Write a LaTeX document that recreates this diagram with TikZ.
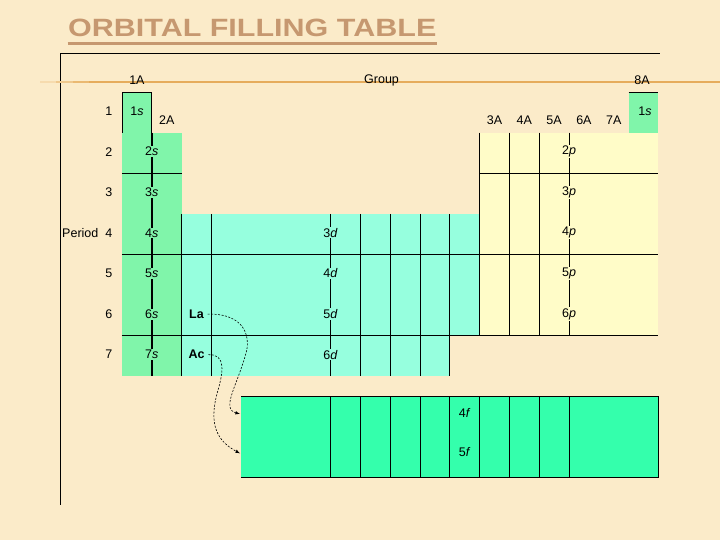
\documentclass[tikz,border=0pt]{standalone}
\usepackage{fontspec}
\setmainfont{Liberation Sans}
\definecolor{bgcol}{RGB}{251,235,201}
\definecolor{titlecol}{RGB}{198,152,112}
\definecolor{rulecol}{RGB}{230,172,92}
\definecolor{sgreen}{RGB}{128,245,170}
\definecolor{dcyan}{RGB}{150,255,222}
\definecolor{pyellow}{RGB}{255,252,200}
\definecolor{fgreen}{RGB}{52,255,172}

\begin{document}
\begin{tikzpicture}[x=29.8pt, y=-40.6pt, line width=0.9pt,
    font=\fontsize{12.5}{14}\selectfont]
      \useasboundingbox (-122pt, 92pt) rectangle (598pt, -448pt);
      \fill[bgcol] (-122pt, 92pt) rectangle (598pt, -448pt);
      \node[text=titlecol, font=\fontsize{25}{30}\selectfont\bfseries, inner sep=0pt] (title) at (4.37, -1.59) {\scalebox{1.22}[1]{ORBITAL FILLING TABLE}};
      \draw[titlecol, line width=3pt] ([yshift=-6.5pt]title.south west) -- ([yshift=-6.5pt]title.south east);
      \draw (18.05, -0.94) -- (-2.05, -0.94) -- (-2.05, 10.17);
      \draw[rulecol!25!bgcol, line width=1.8pt] (-2.75, -0.24) -- (-2.2, -0.24);
      \draw[rulecol!55!bgcol, line width=1.8pt] (-2.2, -0.24) -- (-1.65, -0.24);
      \draw[rulecol!80!bgcol, line width=1.8pt] (-1.65, -0.24) -- (-1.1, -0.24);
      \draw[rulecol, line width=1.8pt] (-1.1, -0.24) -- (20.1, -0.24);
      \fill[sgreen] (0, 0) rectangle (1, 7);
      \fill[sgreen] (1, 1) rectangle (2, 7);
      \fill[sgreen] (17, 0) rectangle (18, 1);
      \fill[dcyan] (2, 3) rectangle (12, 6);
      \fill[dcyan] (2, 6) rectangle (11, 7);
      \fill[pyellow] (12, 1) rectangle (18, 6);
      \fill[fgreen] (4, 7.5) rectangle (18, 9.5);
      \draw (0, 1) -- (0, 0) -- (1, 0) -- (1, 1);
      \draw (17, 0) -- (18, 0);
      \draw[line width=1.8pt] (1, 1) -- (1, 7);
      \draw (0, 2) -- (2, 2);
      \draw (12, 2) -- (18, 2);
      \draw (0, 4) -- (18, 4);
      \draw (0, 6) -- (18, 6);
      \draw (2, 3) -- (2, 7);
      \draw (3, 3) -- (3, 7);
      \draw (7, 3) -- (7, 7);
      \draw (8, 3) -- (8, 7);
      \draw (9, 3) -- (9, 7);
      \draw (10, 3) -- (10, 7);
      \draw (11, 3) -- (11, 7);
      \draw (12, 1) -- (12, 6);
      \draw (13, 1) -- (13, 6);
      \draw (14, 1) -- (14, 6);
      \draw (15, 1) -- (15, 6);
      \draw (4, 7.5) -- (18, 7.5) -- (18, 9.5) -- (4, 9.5);
      \draw (7, 7.5) -- (7, 9.5);
      \draw (8, 7.5) -- (8, 9.5);
      \draw (9, 7.5) -- (9, 9.5);
      \draw (10, 7.5) -- (10, 9.5);
      \draw (11, 7.5) -- (11, 9.5);
      \draw (12, 7.5) -- (12, 9.5);
      \draw (13, 7.5) -- (13, 9.5);
      \draw (14, 7.5) -- (14, 9.5);
      \draw (15, 7.5) -- (15, 9.5);
      \node (g1) at (0.5, -0.29) {1A};
      \node (group) at (8.71, -0.29) {Group};
      \node (g8) at (17.45, -0.29) {8A};
      \node (g2) at (1.5, 0.69) {2A};
      \node (g3) at (12.5, 0.69) {3A};
      \node (g4) at (13.5, 0.69) {4A};
      \node (g5) at (14.5, 0.69) {5A};
      \node (g6) at (15.5, 0.69) {6A};
      \node (g7) at (16.5, 0.69) {7A};
      \node[anchor=east] (per1) at (-0.2, 0.47) {1};
      \node[anchor=east] (per2) at (-0.2, 1.47) {2};
      \node[anchor=east] (per3) at (-0.2, 2.47) {3};
      \node[anchor=east] (per4) at (-0.2, 3.47) {Period\ \ 4};
      \node[anchor=east] (per5) at (-0.2, 4.47) {5};
      \node[anchor=east] (per6) at (-0.2, 5.47) {6};
      \node[anchor=east] (per7) at (-0.2, 6.47) {7};
      \node (s1) at (0.5, 0.47) {1\textit{s}};
      \node (h1) at (17.55, 0.47) {1\textit{s}};
      \node[fill=sgreen, inner sep=1pt] (s2) at (1, 1.47) {2\textit{s}};
      \node[fill=sgreen, inner sep=1pt] (s3) at (1, 2.47) {3\textit{s}};
      \node[fill=sgreen, inner sep=1pt] (s4) at (1, 3.47) {4\textit{s}};
      \node[fill=sgreen, inner sep=1pt] (s5) at (1, 4.47) {5\textit{s}};
      \node[fill=sgreen, inner sep=1pt] (s6) at (1, 5.47) {6\textit{s}};
      \node[fill=sgreen, inner sep=1pt] (s7) at (1, 6.47) {7\textit{s}};
      \node[fill=dcyan, inner sep=1pt] (d3) at (7, 3.47) {3\textit{d}};
      \node[fill=dcyan, inner sep=1pt] (d4) at (7, 4.47) {4\textit{d}};
      \node[fill=dcyan, inner sep=1pt] (d5) at (7, 5.47) {5\textit{d}};
      \node[fill=dcyan, inner sep=1pt] (d6) at (7, 6.47) {6\textit{d}};
      \node[fill=pyellow, inner sep=1pt] (p2) at (15, 1.47) {2\textit{p}};
      \node[fill=pyellow, inner sep=1pt] (p3) at (15, 2.47) {3\textit{p}};
      \node[fill=pyellow, inner sep=1pt] (p4) at (15, 3.47) {4\textit{p}};
      \node[fill=pyellow, inner sep=1pt] (p5) at (15, 4.47) {5\textit{p}};
      \node[fill=pyellow, inner sep=1pt] (p6) at (15, 5.47) {6\textit{p}};
      \node (f4) at (11.5, 7.9) {4\textit{f}};
      \node (f5) at (11.5, 8.87) {5\textit{f}};
      \node[font=\fontsize{12.5}{14}\selectfont\bfseries] (la) at (2.5, 5.47) {La};
      \node[font=\fontsize{12.5}{14}\selectfont\bfseries] (ac) at (2.5, 6.47) {Ac};
      \coordinate (f4in) at (3.96, 7.93);
      \coordinate (f5in) at (3.96, 8.9);
      \draw[line width=0.6pt, dash pattern=on 2pt off 1.5pt, -latex] (la.east) .. controls (3.9, 5.45) and (4.3, 5.85) .. (4.19, 6.35) .. controls (3.9, 7.2) and (3.3, 7.8) .. (f4in);
      \draw[line width=0.6pt, dash pattern=on 2pt off 1.5pt, -latex] (ac.east) .. controls (3.5, 6.45) and (3.4, 6.9) .. (3.2, 7.4) .. controls (2.9, 8.2) and (3.2, 8.6) .. (f5in);
    \end{tikzpicture}
\end{document}
